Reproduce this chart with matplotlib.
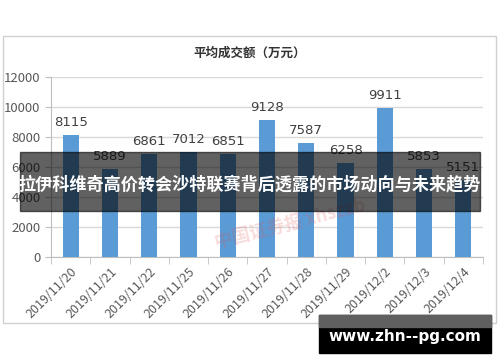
import matplotlib.pyplot as plt
from matplotlib.patches import Rectangle

plt.rcParams['font.family'] = ['Noto Sans CJK SC', 'DejaVu Sans']

dates = ['2019/11/20', '2019/11/21', '2019/11/22', '2019/11/25', '2019/11/26',
         '2019/11/27', '2019/11/28', '2019/11/29', '2019/12/2', '2019/12/3', '2019/12/4']
values = [8115, 5889, 6861, 7012, 6851, 9128, 7587, 6258, 9911, 5853, 5151]
chart_title = '平均成交额（万元）'
banner_text = '拉伊科维奇高价转会沙特联赛背后透露的市场动向与未来趋势'
site_text = 'www.zhn--pg.com'
W, H = 500, 362


def fx(px):
    return px / W


def fy(py):
    return 1 - py / H


fig = plt.figure(figsize=(5, 3.62), dpi=100)
fig.patch.set_facecolor('white')

# outer chart border
fig.patches.append(Rectangle((fx(3), fy(323)), fx(493), (323 - 36) / H,
                             transform=fig.transFigure, fill=False,
                             edgecolor='#D0D0D0', lw=1, zorder=0))

ax = fig.add_axes([fx(51), fy(257), fx(432), (257 - 77) / H])
x = list(range(len(dates)))
bars = ax.bar(x, values, width=0.41, color='#5B9BD5', zorder=3)
for xi, v in zip(x, values):
    ax.text(xi, v + 400, str(v), ha='center', va='bottom', fontsize=9.5,
            color='#404040', zorder=4, family='DejaVu Sans')

ax.set_xlim(-0.5, len(dates) - 0.5)
ax.set_ylim(0, 12000)
ax.set_yticks(range(0, 12001, 2000))
ax.tick_params(axis='y', labelsize=9.5, labelcolor='#595959', color='#BFBFBF', length=4)
ax.grid(axis='y', color='#D9D9D9', lw=1, zorder=0)
ax.set_xticks(x)
ax.set_xticklabels(dates, rotation=45, ha='right', rotation_mode='anchor',
                   fontsize=9, color='#595959')
ax.tick_params(axis='x', which='major', length=0, pad=6)
ax.set_xticks([i - 0.5 for i in range(len(dates) + 1)], minor=True)
ax.tick_params(axis='x', which='minor', length=5, color='#BFBFBF')
for s in ['top', 'right']:
    ax.spines[s].set_visible(False)
for s in ['left', 'bottom']:
    ax.spines[s].set_color('#BFBFBF')

fig.text(0.5, fy(53), chart_title, ha='center', va='center', fontsize=9,
         fontweight='bold', color='#333333')

# watermark
fig.text(fx(290), fy(225), '中国证券报 xhszzb', ha='center', va='center',
         fontsize=13, fontweight='bold', color='#E05050', alpha=0.2, rotation=14)

# dark banner
fig.patches.append(Rectangle((fx(20), fy(211)), fx(460), (211 - 152) / H,
                             transform=fig.transFigure, color='black',
                             alpha=0.62, zorder=10))
fig.text(fx(250), fy(184), banner_text, ha='center', va='center', fontsize=12.3,
         fontweight='bold', color='white', zorder=11)

# site box
fig.patches.append(Rectangle((fx(319), fy(353)), fx(172), (353 - 315) / H,
                             transform=fig.transFigure, color='black', zorder=10))
fig.patches.append(Rectangle((fx(319), fy(327)), fx(172), (327 - 315) / H,
                             transform=fig.transFigure, color='#606060', zorder=11))
fig.text(fx(405), fy(337), site_text, ha='center', va='center', fontsize=11,
         fontweight='bold', color='white', zorder=12, family='DejaVu Sans')

fig.savefig('out.png', dpi=100)
